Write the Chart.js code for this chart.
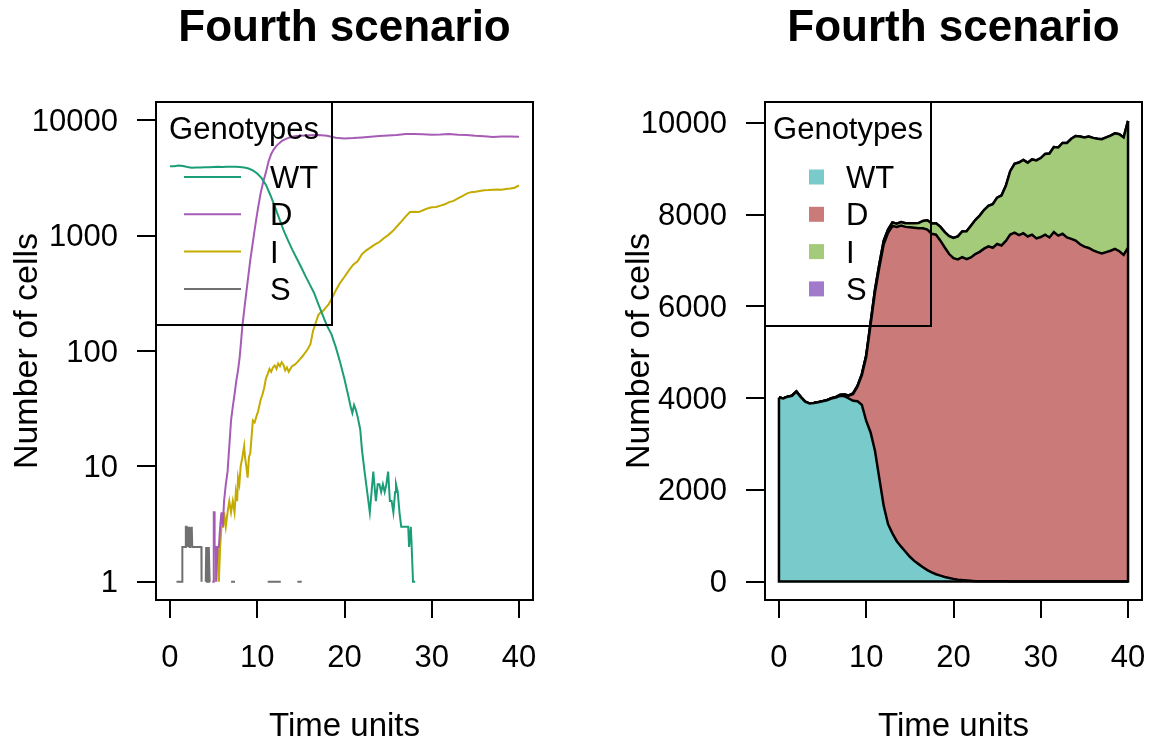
<!DOCTYPE html>
<html><head><meta charset="utf-8">
<script src="https://cdn.jsdelivr.net/npm/chart.js@4.4.1/dist/chart.umd.min.js"></script>
<style>
html,body{margin:0;padding:0;background:#fff;width:1150px;height:749px;overflow:hidden}
canvas{position:absolute;top:0}
#c1{left:0}
#c2{left:575px}
</style></head><body>
<canvas id="c1" width="575" height="749"></canvas>
<canvas id="c2" width="575" height="749"></canvas>
<script>
// ---------- text / categories ----------
const titleText = 'Fourth scenario';
const xTitle = 'Time units';
const yTitle = 'Number of cells';
const legendTitle = 'Genotypes';
const genotypes = ['WT', 'D', 'I', 'S'];
const xTicks = [0, 10, 20, 30, 40];
const logTicks = [1, 10, 100, 1000, 10000];
const linTicks = [0, 2000, 4000, 6000, 8000, 10000];

// ---------- left panel (log scale), per genotype ----------
const wtTime = [0,0.5,1,1.5,2,2.5,3,3.5,4,4.5,5,5.5,6,6.5,7,7.5,8,8.5,9,9.5,10,10.5,11,11.5,12,12.5,13,13.5,14,14.5,15,15.5,16,16.5,17,17.5,18,18.5,19,19.5,20,
  20.4,20.7,20.9,21.1,21.3,21.5,21.8,22.0,22.3,22.6,22.9,23.1,23.3,23.5,23.6,23.8,24.0,24.2,24.4,24.6,24.8,25.0,25.2,25.4,25.6,25.8,25.9,26.1,26.3,26.5,26.8,27.1,27.3,27.4,27.6,27.7,27.85,28.1,28.2];
const wtCount = [4000,3990,4060,4010,3930,3880,3900,3890,3920,3910,3940,3950,3940,3960,3950,3960,3940,3900,3820,3680,3450,3150,2750,2250,1800,1420,1120,920,760,640,540,450,380,320,255,205,165,140,108,80,57,
  42,33,29,34,31,27,21,14,9,6,4,6,9,6,5,7,7,6,7,6,7,9,5,5,4,6,7,6,4,3,3,3,3,2,3,2,1,1,null];

const dTime = [4.85,5.0,5.02,5.1,5.12,5.25,5.3,5.45,5.6,5.75,5.9,6.05,6.2,6.4,6.6,6.8,7.0,7.2,7.4,7.6,7.8,8.0,8.3,8.6,8.9,9.2,9.5,9.8,10.1,10.4,
  10.7,11.0,11.3,11.6,11.9,12.2,12.5,12.8,13.1,13.5,14,14.5,15,16,17,18,19,20,21,22,23,24,25,26,27,28,29,30,31,32,33,34,35,36,37,38,39,40];
const dCount = [1,1,4,4,2,2,1,2,2,3,4,3,5,7,9,15,25,33,42,55,68,90,165,260,400,610,880,1260,1750,2350,
  2950,3550,4400,5100,5600,6000,6300,6600,6800,7000,7200,7300,7350,7400,7450,7350,7050,6950,7000,7100,7200,7300,7380,7450,7600,7580,7550,7500,7520,7580,7500,7450,7330,7250,7160,7220,7230,7200];

const iTime = [5.2,5.3,5.5,5.6,5.75,5.9,6.1,6.2,6.4,6.6,6.8,7.0,7.2,7.4,7.55,7.7,7.8,7.95,8.1,8.3,8.5,8.6,8.75,8.9,9.05,9.2,9.35,9.5,9.7,9.9,
  10.1,10.4,10.6,10.8,11.0,11.2,11.4,11.6,11.8,12.0,12.2,12.4,12.6,12.8,13.0,13.2,13.4,13.6,13.8,14.0,14.3,14.6,14.9,15.2,15.5,15.8,16.1,16.4,16.7,17.0,
  17.3,17.6,17.9,18.2,18.6,19.0,19.5,20.0,20.5,21.0,21.5,22.0,22.5,23.0,23.5,24.0,24.5,25.0,25.5,26.0,26.5,27.0,27.5,28.0,28.5,29.0,29.5,30.0,30.5,31.0,
  31.5,32.0,32.5,33.0,33.5,34.0,34.5,35.0,35.5,36.0,36.5,37.0,37.5,38.0,38.5,39.0,39.5,40.0];
const iCount = [1,2,2,1,2,3,3,4,3,4,5,4,5,4,6,5,8,7,10,12,15,12,10,8,12,13,18,25,24,27,
  30,38,42,48,58,63,70,66,72,75,70,78,74,80,76,68,72,66,70,74,76,80,85,90,97,104,115,150,175,205,
  218,225,240,255,290,335,390,440,500,560,600,690,745,790,840,880,950,1010,1090,1200,1320,1460,1600,1610,1600,1660,1720,1760,1770,1820,
  1870,1950,2000,2100,2200,2310,2380,2400,2440,2470,2480,2500,2510,2500,2530,2560,2600,2730];

const sTime = [0.75,1.4,1.42,1.8,1.82,1.9,1.92,2.0,2.05,2.1,2.15,2.2,2.25,2.3,2.5,2.55,3.6,3.62,3.64,4.1,4.15,4.25,4.3,4.4,4.45,4.55,4.6,4.7,7.0,7.45,7.5,11.2,12.7,12.75,14.6,15.1,15.15];
const sCount = [1,1,2,2,3,3,2,3,2,3,2,3,2,2,3,2,2,1,null,1,2,1,2,1,2,1,1,null,1,1,null,1,1,null,1,1,null];

// ---------- right panel (stacked areas) ----------
const stackTime = [0,0.5,1,1.5,2,2.5,3,3.5,4,4.5,5,5.5,6,6.5,7,7.5,8,8.5,9,9.5,10,10.5,11,11.5,12,12.5,13,13.5,14,14.5,15,15.5,16,16.5,17,17.5,18,18.5,19,19.5,
  20,20.5,21,21.5,22,22.5,23,23.5,24,24.5,25,25.5,26,26.5,27,27.5,28,28.5,29,29.5,30,30.5,31,31.5,32,32.5,33,33.5,34,34.5,35,35.5,36,36.5,37,37.5,38,38.5,39,39.5,40];
const stackWT = [4010,3990,4030,4050,4140,4020,3920,3880,3890,3910,
  3930,3950,3990,4010,4050,4040,3990,3940,3930,3850,
  3500,3250,2850,2250,1650,1250,1050,880,760,650,
  540,450,380,310,250,200,160,130,100,78,
  58,42,32,25,15,8,6,6,7,6,
  7,5,5,3,3,2,1,0,0,0,
  0,0,0,0,0,0,0,0,0,0,
  0,0,0,0,0,0,0,0,0,0,
  0];
const stackD = [0,0,0,0,0,0,0,0,0,0,
  1,2,3,6,15,30,60,150,320,650,
  1400,2350,3450,4600,5700,6350,6700,6850,7000,7080,
  7180,7260,7320,7390,7420,7380,7400,7300,7180,7060,
  6990,6980,7040,7000,7050,7130,7180,7250,7300,7270,
  7350,7320,7420,7560,7600,7550,7590,7520,7560,7480,
  7510,7560,7500,7620,7540,7580,7500,7470,7430,7350,
  7300,7270,7220,7180,7150,7180,7210,7250,7200,7120,
  7280];
const stackI = [0,0,0,0,0,0,0,0,0,0,
  1,2,3,4,4,5,8,14,12,22,
  30,40,58,66,75,74,76,70,74,80,
  87,97,112,160,205,222,250,300,335,390,
  440,500,560,610,690,740,790,840,880,950,
  1010,1090,1200,1380,1500,1580,1600,1610,1640,1700,
  1720,1760,1830,1850,1920,1980,2060,2180,2280,2350,
  2380,2430,2450,2470,2490,2500,2510,2520,2550,2560,
  2760];
const stackS = [0,0,1,2,3,2,2,2,1,1,
  0,0,0,0,1,0,0,0,0,0,
  0,0,0,1,1,0,0,0,0,0,
  1,0,0,0,0,0,0,0,0,0,
  0,0,0,0,0,0,0,0,0,0,
  0,0,0,0,0,0,0,0,0,0,
  0,0,0,0,0,0,0,0,0,0,
  0,0,0,0,0,0,0,0,0,0,
  0];

// ---------- styling ----------
const FONT = '"Liberation Sans", Arial, Helvetica, sans-serif';
const lineColors = ['#1b9e77', '#a65cb6', '#c4ab00', '#707070'];
const areaColors = ['#79cbcb', '#cb7a7a', '#a3cb7a', '#a27acb'];

const framePlugin = {
  id: 'frame',
  afterDraw(chart) {
    const {ctx, chartArea: a} = chart;
    ctx.save();
    ctx.strokeStyle = '#000';
    ctx.lineWidth = 2;
    ctx.strokeRect(a.left, a.top, a.right - a.left, a.bottom - a.top);
    ctx.restore();
  }
};

function legendPlugin(L) {
  return {
    id: 'genoLegend',
    afterDraw(chart) {
      const {ctx, chartArea: a} = chart;
      ctx.save();
      ctx.strokeStyle = '#000';
      ctx.lineWidth = 2;
      ctx.strokeRect(a.left, a.top, L.w, L.h);
      ctx.font = '31px ' + FONT;
      ctx.fillStyle = '#000';
      ctx.textBaseline = 'alphabetic';
      ctx.textAlign = 'center';
      ctx.fillText(legendTitle, a.left + L.w / 2, a.top + L.titleY + 11);
      ctx.textAlign = 'left';
      genotypes.forEach((g, i) => {
        const ds = chart.data.datasets[i];
        const y = a.top + L.row0 + i * L.rowStep;
        if (L.kind === 'line') {
          ctx.strokeStyle = ds.borderColor;
          ctx.lineWidth = 2;
          ctx.beginPath();
          ctx.moveTo(a.left + L.s0, y);
          ctx.lineTo(a.left + L.s1, y);
          ctx.stroke();
        } else {
          ctx.fillStyle = ds.backgroundColor;
          ctx.fillRect(a.left + L.s0, y - L.sq / 2, L.sq, L.sq);
        }
        ctx.fillStyle = '#000';
        ctx.fillText(g, a.left + L.labX, y + 11);
      });
      ctx.restore();
    }
  };
}

function baseOptions(yCfg, yWidth, yTitlePad, rightPad) {
  return {
    responsive: false,
    animation: false,
    layout: {padding: {left: 0, right: rightPad, top: 0, bottom: 0}},
    plugins: {
      legend: {display: false},
      tooltip: {enabled: false},
      title: {
        display: true, text: titleText, fullSize: false, color: '#000',
        font: {family: FONT, size: 44, weight: 'bold'},
        padding: {top: 2, bottom: 47.2}
      }
    },
    scales: {
      x: {
        type: 'linear', min: -1.6, max: 41.6,
        afterBuildTicks: s => { s.ticks = xTicks.map(v => ({value: v})); },
        afterFit: s => { s.height = 149; s.paddingLeft = 0; s.paddingRight = 0; },
        grid: {display: true, drawOnChartArea: false, drawTicks: true, tickLength: 18, color: '#000', lineWidth: 2},
        border: {display: false},
        ticks: {color: '#000', font: {family: FONT, size: 31}, padding: 22, maxRotation: 0, autoSkip: false, callback: v => String(v)},
        title: {display: true, text: xTitle, color: '#000', font: {family: FONT, size: 33}, padding: {top: 0, bottom: 2}}
      },
      y: Object.assign({
        afterFit: s => { s.width = yWidth; s.paddingTop = 0; s.paddingBottom = 0; },
        grid: {display: true, drawOnChartArea: false, drawTicks: true, tickLength: 19, color: '#000', lineWidth: 2},
        border: {display: false},
        ticks: {color: '#000', font: {family: FONT, size: 31}, padding: 19, labelOffset: 2, autoSkip: false, callback: v => String(v)},
        title: {display: true, text: yTitle, color: '#000', font: {family: FONT, size: 34}, padding: {top: yTitlePad, bottom: 0}}
      }, yCfg)
    }
  };
}

// ---------- left chart ----------
const leftSeries = [[wtTime, wtCount], [dTime, dCount], [iTime, iCount], [sTime, sCount]];
new Chart(document.getElementById('c1'), {
  type: 'line',
  data: {
    datasets: genotypes.map((g, k) => ({
      label: g,
      data: leftSeries[k][0].map((t, j) => ({x: t, y: leftSeries[k][1][j]})),
      borderColor: lineColors[k], backgroundColor: lineColors[k],
      borderWidth: 2, pointRadius: 0, tension: 0, fill: false, spanGaps: false
    }))
  },
  options: baseOptions({
    type: 'logarithmic', min: 0.695, max: 14390,
    afterBuildTicks: s => { s.ticks = logTicks.map(v => ({value: v})); }
  }, 156, 7, 42),
  plugins: [framePlugin, legendPlugin({kind: 'line', w: 176, h: 223, titleY: 26, row0: 75, rowStep: 37.3, s0: 28, s1: 85, labX: 114})]
});

// ---------- right chart ----------
const stackSeries = [stackWT, stackD, stackI, stackS];
const totalAt = j => stackSeries.reduce((s, arr) => s + arr[j], 0);
const last = stackTime.length - 1;
const areaSets = genotypes.map((g, k) => ({
  label: g,
  data: stackTime.map((t, j) => ({x: t, y: stackSeries[k][j]})),
  backgroundColor: areaColors[k], borderColor: '#000',
  borderWidth: 2.5, pointRadius: 0, tension: 0,
  fill: k === 0 ? 'origin' : '-1', order: 0, stack: 'geno'
}));
areaSets.push({
  label: 'edge',
  data: [{x: stackTime[0], y: totalAt(0)}, {x: stackTime[0], y: 0}, {x: stackTime[last], y: 0}, {x: stackTime[last], y: totalAt(last)}],
  borderColor: '#000', borderWidth: 2.5, pointRadius: 0, tension: 0, fill: false, order: -1, stack: 'edge'
});
new Chart(document.getElementById('c2'), {
  type: 'line',
  data: {datasets: areaSets},
  options: baseOptions({
    type: 'linear', stacked: true, min: -402, max: 10452,
    afterBuildTicks: s => { s.ticks = linTicks.map(v => ({value: v})); }
  }, 190, 44.5, 8),
  plugins: [framePlugin, legendPlugin({kind: 'box', w: 166, h: 224, titleY: 26, row0: 75, rowStep: 37.3, s0: 44, s1: 59, sq: 15, labX: 81})]
});
</script>
</body></html>
